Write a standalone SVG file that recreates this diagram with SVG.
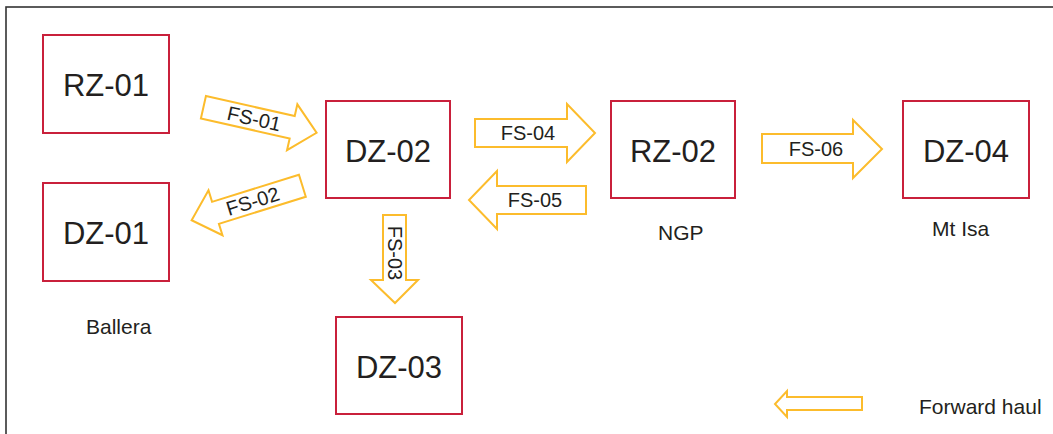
<svg xmlns="http://www.w3.org/2000/svg" width="1053" height="434" viewBox="0 0 1053 434">
<style>
.box{fill:#fff;stroke:#c9203b;stroke-width:2}
.big{font-family:"Liberation Sans",Arial,sans-serif;font-size:31px;fill:#231f20;text-anchor:middle}
.lbl{font-family:"Liberation Sans",Arial,sans-serif;font-size:20px;fill:#231f20;text-anchor:middle}
.cap{font-family:"Liberation Sans",Arial,sans-serif;font-size:21px;fill:#231f20}
.arr{fill:#fff;stroke:#fcbc2c;stroke-width:2;stroke-linejoin:miter}
</style>
<rect x="6" y="7" width="1100" height="500" fill="#fff" stroke="#333" stroke-width="1.6"/>
<g id="RZ-01"><rect class="box" x="43" y="35" width="126" height="98"/><text class="big" x="106" y="96">RZ-01</text></g>
<g id="DZ-01"><rect class="box" x="43" y="183" width="126" height="98"/><text class="big" x="106" y="244">DZ-01</text></g>
<g id="DZ-02"><rect class="box" x="326" y="101" width="124" height="97"/><text class="big" x="388" y="162">DZ-02</text></g>
<g id="RZ-02"><rect class="box" x="611" y="101" width="124" height="97"/><text class="big" x="673" y="162">RZ-02</text></g>
<g id="DZ-04"><rect class="box" x="903" y="101" width="126" height="97"/><text class="big" x="966" y="162">DZ-04</text></g>
<g id="DZ-03"><rect class="box" x="336" y="317" width="126" height="97"/><text class="big" x="399" y="378">DZ-03</text></g>
<g id="labels">
<text class="cap" x="86" y="334">Ballera</text>
<text class="cap" x="658" y="240">NGP</text>
<text class="cap" x="932" y="236">Mt Isa</text>
<text class="cap" x="919" y="414">Forward haul</text>
</g>
<g id="connectors">
<g id="FS-01" transform="translate(260,120) rotate(12.7)">
<polygon class="arr" points="-58,-11.5 33,-11.5 33,-23.5 58,0 33,23.5 33,11.5 -58,11.5"/>
<text class="lbl" x="-6" y="7">FS-01</text>
</g>
<g id="FS-02" transform="translate(247,203) rotate(-17.3)">
<polygon class="arr" points="58,-11.5 -33,-11.5 -33,-23.5 -58,0 -33,23.5 -33,11.5 58,11.5"/>
<text class="lbl" x="6" y="7">FS-02</text>
</g>
<g id="FS-03">
<polygon class="arr" points="383,215 406,215 406,280 418,280 395,303 371,280 383,280"/>
<text class="lbl" transform="translate(394.5,253) rotate(90)" x="0" y="7">FS-03</text>
</g>
<g id="FS-04">
<polygon class="arr" points="475,119 567,119 567,104 595,133 567,162 567,147 475,147"/>
<text class="lbl" x="528" y="140">FS-04</text>
</g>
<g id="FS-05">
<polygon class="arr" points="586,186 497,186 497,171 469,200 497,229 497,214 586,214"/>
<text class="lbl" x="535" y="207">FS-05</text>
</g>
<g id="FS-06">
<polygon class="arr" points="762,134 853,134 853,120 882,149 853,178 853,163 762,163"/>
<text class="lbl" x="816" y="156">FS-06</text>
</g>
<g id="legend-arrow">
<polygon class="arr" points="862,397 787,397 787,391 775,404 787,417 787,410 862,410"/>
</g>
</g>
</svg>
